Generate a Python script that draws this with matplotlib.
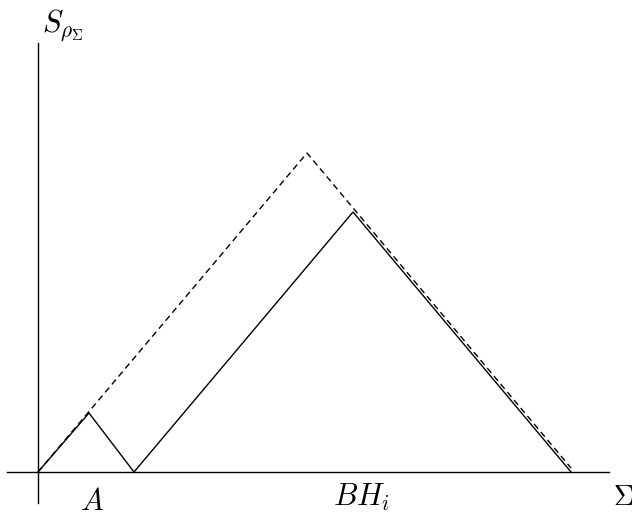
import matplotlib.pyplot as plt

plt.rcParams['mathtext.fontset'] = 'cm'

# envelope (dashed) and actual entropy curve (solid)
env_x = [0, 269, 533]
env_y = [0, 319, 4]
page_x = [0, 51, 96, 315, 533]
page_y = [0, 59, 0, 260, 0]

fig = plt.figure(figsize=(6.32, 5.16), dpi=100)
ax = fig.add_axes([0, 0, 1, 1])
ax.set_xlim(-38, 594)
ax.set_ylim(-44, 472)
ax.axis('off')

# axes drawn by hand
ax.plot([-31, 571], [0, 0], color='black', lw=1.0)
ax.plot([0, 0], [-31, 429], color='black', lw=1.0)

ax.plot(env_x, env_y, color='black', lw=1.0, dashes=(4.5, 3))
ax.plot(page_x, page_y, color='black', lw=1.0)

ax.text(4, 440, r'$S_{\rho_\Sigma}$', fontsize=22, va='baseline')
ax.text(42, -38, r'$A$', fontsize=22, va='baseline')
ax.text(295, -34, r'$BH_i$', fontsize=22, va='baseline')
ax.text(575, -33, r'$\Sigma$', fontsize=20, va='baseline')

fig.savefig('out.png', dpi=100)
